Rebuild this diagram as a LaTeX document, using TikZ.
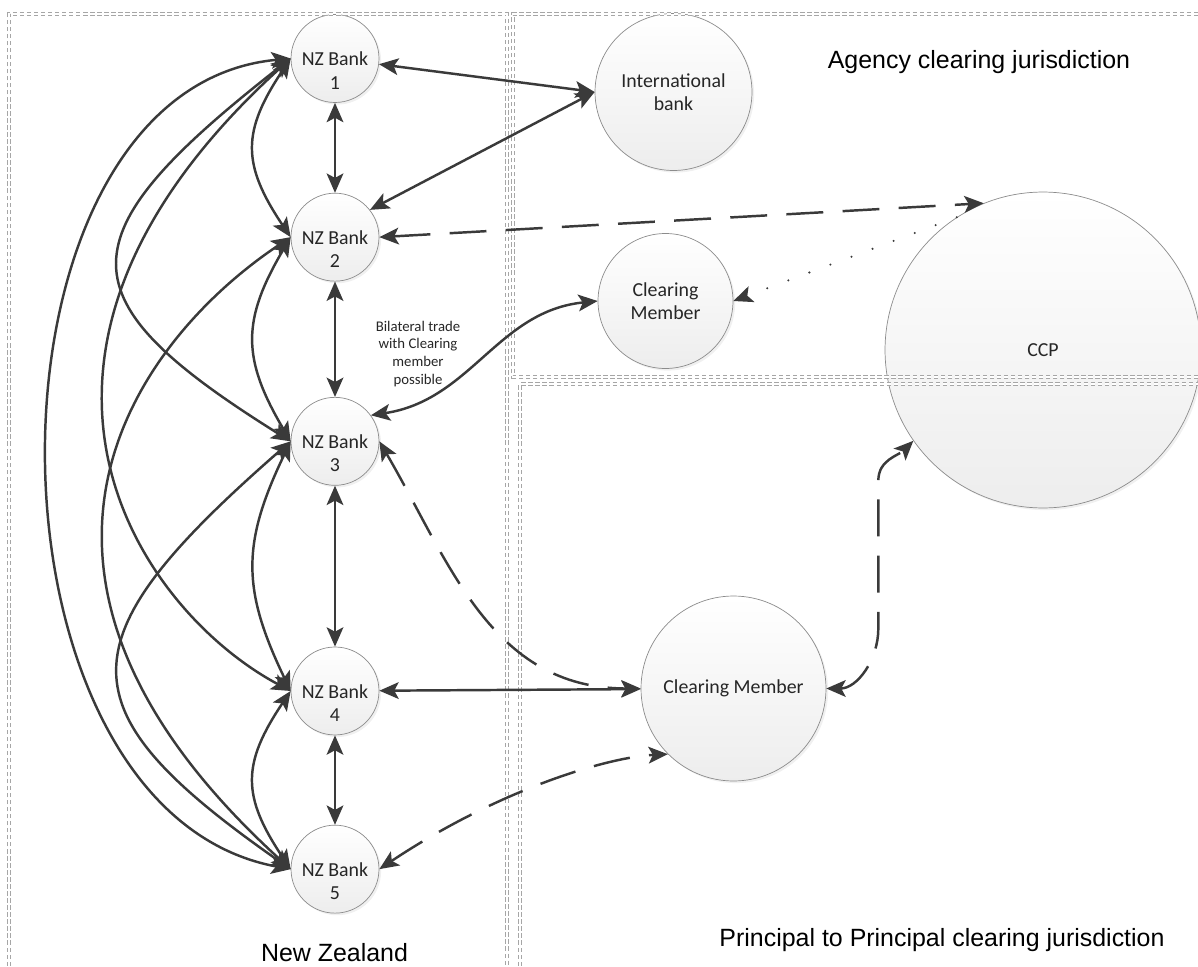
\documentclass[tikz,border=0pt]{standalone}
\usepackage{fontspec}
\setmainfont{Carlito}
\newfontfamily\arialfont{Liberation Sans}
\usepackage{tikz}
\usetikzlibrary{positioning}
\usetikzlibrary {arrows.meta}
\usetikzlibrary{shadows}

\definecolor{linegray}{HTML}{3A3A3A}
\definecolor{boxgray}{HTML}{A6A6A6}
\definecolor{rimgray}{HTML}{8C8C8C}

\begin{document}
\begin{tikzpicture}[x=0.02cm,y=0.02cm,
  >={Stealth[length=11pt,width=9.5pt,inset=2.5pt]},
  party/.style={circle, draw=rimgray, line width=0.4pt, top color=white, bottom color=black!7,
    drop shadow={opacity=0.12, shadow xshift=1.2pt, shadow yshift=-1.2pt},
    font=\nodefont, text=black!85, align=center, inner sep=0pt},
  bank/.style={party, minimum size=1.76cm, label={[banklab]center:NZ Bank\\#1}},
  banklab/.style={font=\nodefont, text=black!85, align=center, yshift=-0.24cm},
  link/.style={draw=linegray, line width=1.4pt, <->},
  dashlink/.style={link, dash pattern=on 21pt off 11pt},
  dotlink/.style={draw=linegray, line width=1.3pt, line cap=round, dash pattern=on 0pt off 12.8pt, ->},
  region/.style={draw=boxgray, line width=0.4pt, dash pattern=on 2.5pt off 1.5pt, double=white, double distance=1.6pt},
  zone/.style={font=\zonefont}
]

\def\nodefont{\fontsize{11.3}{13.4}\selectfont}
\def\notefont{\fontsize{8.4}{10.2}\selectfont}
\def\zonefont{\arialfont\fontsize{14.2}{17}\selectfont}

\useasboundingbox (0,0) rectangle (1198,-967);

% NZ banks
\node[bank=1] (b1) at (335,-58.5) {};
\node[bank=2, below=1.8cm of b1] (b2) {};
\node[bank=3, below=2.31cm of b2] (b3) {};
\node[bank=4, below=3.22cm of b3] (b4) {};
\node[bank=5, below=1.79cm of b4] (b5) {};

% other parties
\node[party, minimum size=3.14cm] (intl) at (673.5,-92) {International\\bank};
\node[party, minimum size=2.7cm] (cma) at (665.5,-301) {Clearing\\Member};
\node[party, minimum size=6.32cm] (ccp) at (1043,-350) {CCP};
\node[party, minimum size=3.7cm] (cmp) at (733.5,-688.5) {Clearing Member};

\node[zone] (agency) at (979,-62) {Agency clearing jurisdiction};
\node[zone] (p2p) at (942,-940) {Principal to Principal clearing jurisdiction};
\node[zone] (nz) at (334.5,-953) {New Zealand};
\node[font=\notefont, text=black!85, align=center] (note) at (418,-354) {Bilateral trade\\with Clearing\\member\\possible};

% jurisdictions
\draw[region] (9,-980) -- (9,-14) -- (507,-14) -- (507,-980);
\draw[region] (1198,-377) -- (513,-377) -- (513,-14) -- (1198,-14);
\draw[region] (520,-980) -- (520,-384) -- (1198,-384);

\draw[link] (b1) -- (b2);
\draw[link] (b2) -- (b3);
\draw[link] (b3) -- (b4);
\draw[link] (b4) -- (b5);

% arcs on the left
\draw[link] (b1.west) .. controls +(-49,-73) and +(-49,73) .. (b2.west);
\draw[link] (b2.west) .. controls +(-49,-83) and +(-49,83) .. (b3.west);
\draw[link] (b3.west) .. controls +(-49,-102) and +(-49,102) .. (b4.west);
\draw[link] (b4.west) .. controls +(-49,-73) and +(-49,73) .. (b5.west);
\draw[link] (b1.west) .. controls +(-229,-179) and +(-229,143) .. (b3.west);
\draw[link] (b3.west) .. controls +(-229,-200) and +(-229,160) .. (b5.west);
\draw[link] (b1.west) .. controls +(-330,-300) and +(-150,80) .. (b4.west);
\draw[link] (b2.west) .. controls +(-150,-100) and +(-330,300) .. (b5.west);
\draw[link] (b1.west) .. controls +(-323,-30) and +(-323,60) .. (b5.west);

% out of New Zealand
\draw[link] (b1) -- (intl.west);
\draw[link] (b2.38) -- (intl.west);
\draw[dashlink] (b2.east) -- (ccp.112);
\draw[link] (b3.36) .. controls +(100,15) and +(-100,-10) .. (cma.west);
\draw[dashlink] (b3.east) .. controls +(70,-120) and +(-150,0) .. (cmp.west);
\draw[link] (b4) -- (cmp);
\draw[dashlink] (b5.east) .. controls +(120,80) and +(-60,-3) .. (cmp.225);
\draw[dashlink] (cmp.east) to[out=0,in=-90] ++(52,60) -- ++(0,148) to[out=90,in=225] (ccp.215);
\draw[dotlink] (ccp.123) -- (cma.east);
\end{tikzpicture}
\end{document}
